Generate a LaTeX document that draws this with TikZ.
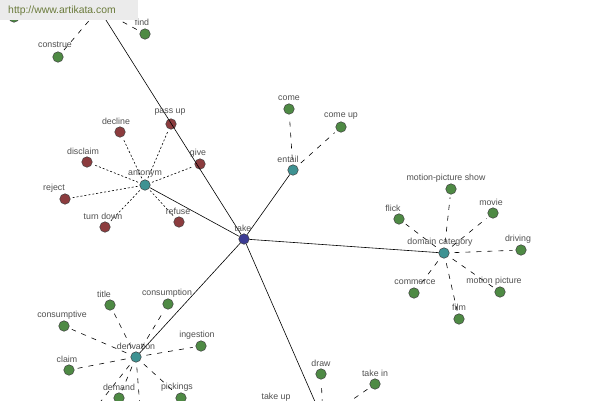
\documentclass[tikz,border=0pt]{standalone}
\usepackage{fontspec}
\setmainfont{Liberation Sans}
\definecolor{leafgreen}{HTML}{4E8A44}
\definecolor{leafred}{HTML}{8C3C3E}
\definecolor{hubteal}{HTML}{3E9292}
\definecolor{takeblue}{HTML}{3C3C94}
\definecolor{txtgray}{HTML}{505050}
\definecolor{wmbox}{HTML}{EBEBEB}
\definecolor{wmtext}{HTML}{6A7A3A}
\tikzset{
  dot/.style={circle, draw=black!75, line width=0.5pt, minimum size=10.5pt, inner sep=0pt},
  leafG/.style={dot, fill=leafgreen},
  leafR/.style={dot, fill=leafred},
  hub/.style={dot, fill=hubteal},
  takehub/.style={dot, fill=takeblue},
  lbl/.style={font=\fontsize{8.8}{9}\selectfont, text=txtgray, inner sep=0pt},
  solidedge/.style={draw=black, line width=0.6pt},
  dotedge/.style={draw=black, line width=0.6pt, dash pattern=on 2pt off 2pt, shorten <=2pt, shorten >=2pt},
  dashedge/.style={draw=black, line width=0.6pt, dash pattern=on 5pt off 6pt, shorten <=5pt, shorten >=3pt},
}
\begin{document}
\begin{tikzpicture}[x=1pt,y=-1pt]
\useasboundingbox (0,0) rectangle (600,400);
\clip (0,0) rectangle (600,400);
\fill[white] (0,0) rectangle (600,400);

% nodes
\node[takehub] (take) at (244,239) {};
\node[hub] (antonym) at (145,185) {};
\node[hub] (entail) at (293,170) {};
\node[hub] (domain) at (444,253) {};
\node[hub] (deriv) at (136,357) {};
\coordinate (hubtop) at (99,9);
\coordinate (hubbot) at (323,420);

% antonym leaves
\node[leafR] (passup) at (171,124) {};
\node[leafR] (decline) at (120,132) {};
\node[leafR] (disclaim) at (87,162) {};
\node[leafR] (give) at (200,164) {};
\node[leafR] (reject) at (65,199) {};
\node[leafR] (turndown) at (105,227) {};
\node[leafR] (refuse) at (179,222) {};

% entail leaves
\node[leafG] (come) at (289,109) {};
\node[leafG] (comeup) at (341,127) {};

% domain leaves
\node[leafG] (mps) at (451,189) {};
\node[leafG] (flick) at (399,219) {};
\node[leafG] (movie) at (493,213) {};
\node[leafG] (driving) at (521,250) {};
\node[leafG] (commerce) at (414,293) {};
\node[leafG] (motionpic) at (500,292) {};
\node[leafG] (film) at (459,319) {};

% derivation leaves
\node[leafG] (title) at (110,305) {};
\node[leafG] (consumption) at (168,304) {};
\node[leafG] (consumptive) at (64,326) {};
\node[leafG] (ingestion) at (201,346) {};
\node[leafG] (claim) at (69,370) {};
\node[leafG] (demand) at (119,398) {};
\node[leafG] (pickings) at (181,398) {};
\coordinate (derivA) at (90,415);
\coordinate (derivB) at (141,420);

% bottom leaves
\node[leafG] (draw) at (321,374) {};
\node[leafG] (takein) at (375,384) {};
\node[leafG] (takeup) at (277,410) {};

% top leaves
\node[leafG] (construe) at (58,57) {};
\node[leafG] (find) at (145,34) {};
\node[leafG] (topleft) at (14,17) {};

% solid edges
\draw[solidedge] (take) -- (antonym);
\draw[solidedge] (take) -- (entail);
\draw[solidedge] (take) -- (domain);
\draw[solidedge] (take) -- (deriv);
\draw[solidedge] (take) -- (hubbot);
\draw[solidedge] (take) -- (hubtop);

% antonym spokes
\foreach \n in {passup,decline,disclaim,give,reject,turndown,refuse}
  \draw[dotedge] (antonym) -- (\n);
% entail spokes
\foreach \n in {come,comeup}
  \draw[dashedge] (entail) -- (\n);
% domain spokes
\foreach \n in {mps,flick,movie,driving,commerce,motionpic,film}
  \draw[dashedge] (domain) -- (\n);
% derivation spokes
\foreach \n in {title,consumption,consumptive,ingestion,claim,demand,pickings,derivA,derivB}
  \draw[dashedge] (deriv) -- (\n);
% bottom hub spokes
\foreach \n in {draw,takein,takeup}
  \draw[dashedge] (hubbot) -- (\n);
% top hub spokes
\foreach \n in {construe,find,topleft}
  \draw[dashedge] (hubtop) -- (\n);

% labels
\node[lbl] (l-take) at (243,228) {take};
\node[lbl] (l-antonym) at (145,174) {antonym};
\node[lbl] (l-passup) at (170,112) {pass up};
\node[lbl] (l-decline) at (116,121) {decline};
\node[lbl] (l-disclaim) at (83,151) {disclaim};
\node[lbl] (l-give) at (198,153) {give};
\node[lbl] (l-reject) at (54,188) {reject};
\node[lbl] (l-turndown) at (103,216) {turn down};
\node[lbl] (l-refuse) at (178,211) {refuse};
\node[lbl] (l-entail) at (288,159) {entail};
\node[lbl] (l-come) at (289,98) {come};
\node[lbl] (l-comeup) at (341,116) {come up};
\node[lbl] (l-domain) at (440,242) {domain category};
\node[lbl] (l-mps) at (446,178) {motion-picture show};
\node[lbl] (l-flick) at (393,208) {flick};
\node[lbl] (l-movie) at (491,202) {movie};
\node[lbl] (l-driving) at (518,239) {driving};
\node[lbl] (l-commerce) at (415,282) {commerce};
\node[lbl] (l-motionpic) at (494,281) {motion picture};
\node[lbl] (l-film) at (459,307) {film};
\node[lbl] (l-deriv) at (136,346) {derivation};
\node[lbl] (l-title) at (104,294) {title};
\node[lbl] (l-consumption) at (167,293) {consumption};
\node[lbl] (l-consumptive) at (62,315) {consumptive};
\node[lbl] (l-ingestion) at (197,335) {ingestion};
\node[lbl] (l-claim) at (67,359) {claim};
\node[lbl] (l-demand) at (119,387) {demand};
\node[lbl] (l-pickings) at (177,387) {pickings};
\node[lbl] (l-draw) at (321,363) {draw};
\node[lbl] (l-takein) at (375,373) {take in};
\node[lbl] (l-takeup) at (276,397.5) {take up};
\node[lbl] (l-construe) at (55,45) {construe};
\node[lbl] (l-find) at (142,22) {find};

% watermark
\fill[wmbox] (0,0) rectangle (138,20);
\node[font=\fontsize{10.4}{11}\selectfont, text=wmtext, inner sep=0pt] (wm) at (62,11) {http://www.artikata.com};
\end{tikzpicture}
\end{document}
